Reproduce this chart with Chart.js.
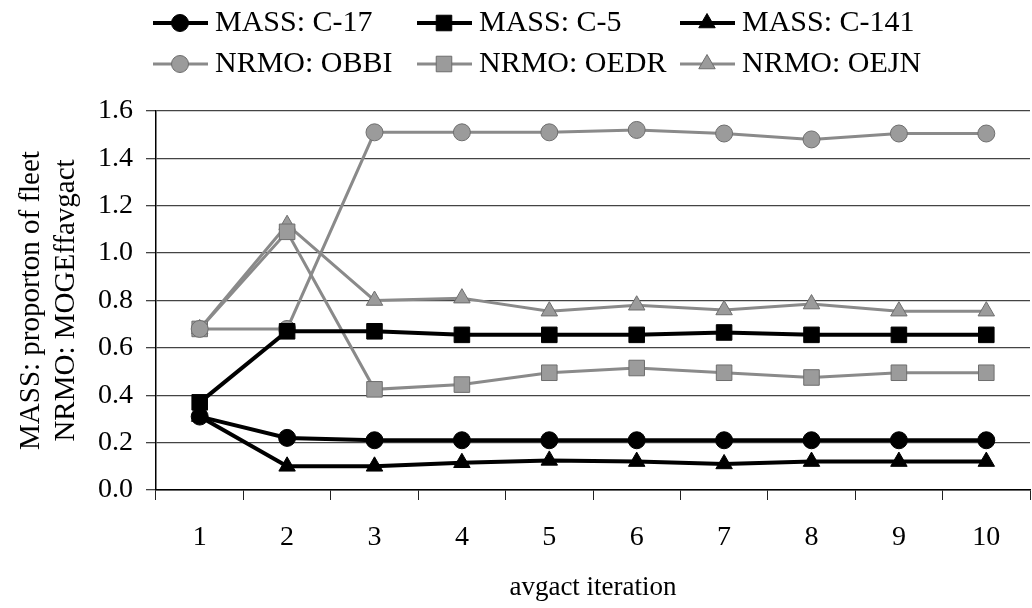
<!DOCTYPE html>
<html lang="en">
<head>
  <meta charset="UTF-8" />
  <title>avgact iteration</title>
  <script src="https://cdn.jsdelivr.net/npm/chart.js"></script>
  <style>
    body {
      margin: 0;
      padding: 0;
      background: #fff;
      overflow: hidden;
    }
    /* plot runs a few px past the right edge, like the scan */
    #wrap {
      width: 1042px;
      height: 608px;
    }
  </style>
</head>
<body>
  <div id="wrap">
    <canvas id="chart"></canvas>
  </div>

  <script>
    const iterations = ['1', '2', '3', '4', '5', '6', '7', '8', '9', '10'];

    const massC17  = [0.31, 0.22, 0.21, 0.21, 0.21, 0.21, 0.21, 0.21, 0.21, 0.21];
    const massC5   = [0.37, 0.67, 0.67, 0.655, 0.655, 0.655, 0.665, 0.655, 0.655, 0.655];
    const massC141 = [0.31, 0.10, 0.10, 0.115, 0.125, 0.12, 0.11, 0.12, 0.12, 0.12];
    const nrmoOBBI = [0.68, 0.68, 1.51, 1.51, 1.51, 1.52, 1.505, 1.48, 1.505, 1.505];
    const nrmoOEDR = [0.68, 1.09, 0.425, 0.445, 0.495, 0.515, 0.495, 0.475, 0.495, 0.495];
    const nrmoOEJN = [0.68, 1.12, 0.80, 0.81, 0.755, 0.78, 0.76, 0.785, 0.755, 0.755];

    const yTicks = [0, 0.2, 0.4, 0.6, 0.8, 1.0, 1.2, 1.4, 1.6];

    const serif = '"Liberation Serif", "Times New Roman", serif';
    Chart.defaults.font.family = serif;
    Chart.defaults.color = '#000';

    function series(label, data, dark, style, radius) {
      return {
        label: label,
        data: data,
        borderColor: dark ? '#000' : '#8a8a8a',
        borderWidth: dark ? 4 : 3,
        pointStyle: style,
        pointRadius: radius,
        pointBackgroundColor: dark ? '#000' : '#9b9b9b',
        pointBorderColor: dark ? '#000' : '#6e6e6e',
        pointBorderWidth: 1,
        tension: 0,
        clip: false
      };
    }

    // legend: two rows of three, drawn by hand (line + marker + text)
    const legendCols = [153, 417, 680];
    const legendRows = [23, 64];

    const legendPlugin = {
      id: 'twoRowLegend',
      afterDraw(chart) {
        const ctx = chart.ctx;
        const font = Chart.helpers.toFont({ size: 30, family: serif });
        chart.data.datasets.forEach((ds, i) => {
          const x = legendCols[i % 3];
          const y = legendRows[Math.floor(i / 3)];
          ctx.save();
          ctx.strokeStyle = ds.borderColor;
          ctx.lineWidth = ds.borderWidth;
          ctx.beginPath();
          ctx.moveTo(x, y);
          ctx.lineTo(x + 55, y);
          ctx.stroke();

          ctx.fillStyle = ds.pointBackgroundColor;
          ctx.strokeStyle = ds.pointBorderColor;
          ctx.lineWidth = ds.pointBorderWidth;
          Chart.helpers.drawPoint(ctx, {
            pointStyle: ds.pointStyle,
            radius: ds.pointRadius,
            rotation: 0,
            borderWidth: ds.pointBorderWidth
          }, x + 27, y);

          ctx.fillStyle = '#000';
          ctx.font = font.string;
          ctx.textAlign = 'left';
          ctx.textBaseline = 'middle';
          ctx.fillText(ds.label, x + 62, y);
          ctx.restore();
        });
      }
    };

    new Chart(document.getElementById('chart'), {
      type: 'line',
      data: {
        labels: iterations,
        datasets: [
          series('MASS: C-17', massC17, true, 'circle', 8.5),
          series('MASS: C-5', massC5, true, 'rect', 11),
          series('MASS: C-141', massC141, true, 'triangle', 9.5),
          series('NRMO: OBBI', nrmoOBBI, false, 'circle', 8.5),
          series('NRMO: OEDR', nrmoOEDR, false, 'rect', 11),
          series('NRMO: OEJN', nrmoOEJN, false, 'triangle', 9.5)
        ]
      },
      options: {
        responsive: true,
        maintainAspectRatio: false,
        animation: false,
        layout: {
          padding: { top: 111, left: 0, right: 0, bottom: 0 }
        },
        plugins: {
          legend: { display: false },
          tooltip: { enabled: false }
        },
        scales: {
          x: {
            offset: true,
            afterFit: s => { s.height = 118; },
            grid: {
              drawOnChartArea: false,
              drawTicks: true,
              tickLength: 10,
              color: '#222',
              offset: true
            },
            border: { color: '#000', width: 1.5 },
            ticks: {
              padding: 21,
              font: { size: 28 }
            },
            title: {
              display: true,
              text: 'avgact iteration',
              font: { size: 27 },
              padding: { top: 0, bottom: 4 }
            }
          },
          y: {
            min: 0,
            max: 1.6,
            afterFit: s => { s.width = 156; },
            afterBuildTicks: s => { s.ticks = yTicks.map(v => ({ value: v })); },
            grid: {
              color: '#444',
              lineWidth: 1.3,
              tickLength: 10
            },
            border: { color: '#000', width: 1.5 },
            ticks: {
              padding: 13,
              font: { size: 28 },
              callback: v => v.toFixed(1)
            },
            title: {
              display: true,
              text: ['MASS: proporton of fleet', 'NRMO: MOGEffavgact'],
              font: { size: 29, lineHeight: 1.2 },
              padding: { top: 14, bottom: 0 }
            }
          }
        }
      },
      plugins: [legendPlugin]
    });
  </script>
</body>
</html>
